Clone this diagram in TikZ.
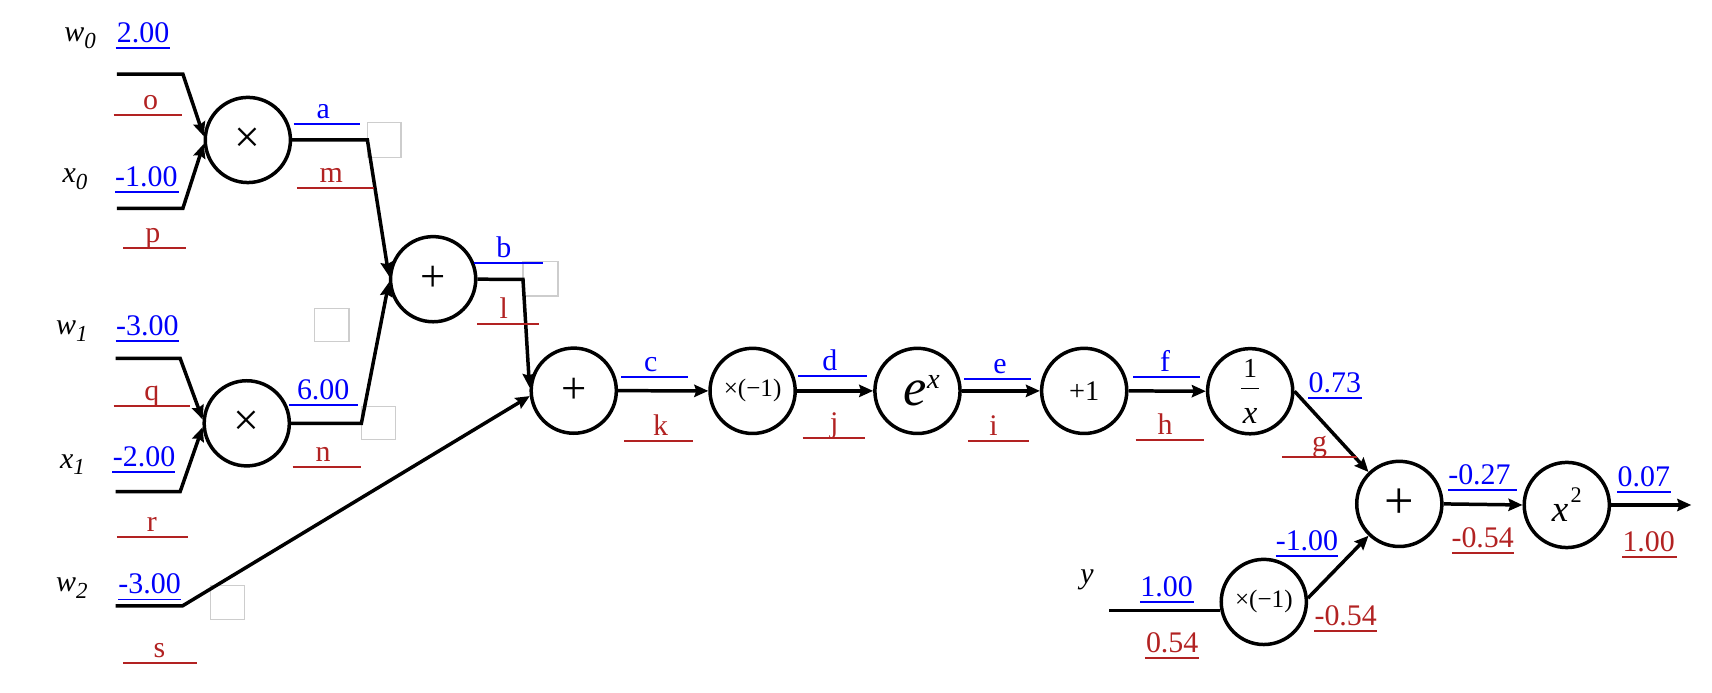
\documentclass[tikz,border=0pt]{standalone}
\usepackage{fontspec}
\setmainfont{Liberation Serif}
\usetikzlibrary{arrows.meta}
\definecolor{vblue}{RGB}{0,0,250}
\definecolor{gred}{RGB}{178,34,34}
\definecolor{boxgray}{RGB}{205,205,205}

\newcommand{\vlab}[7]{%
  \node[lbl,text=#2] (#1) at (#4,#7-5) {#3};
  \draw[uline,draw=#2] (#5,#7) -- (#6,#7);}
\newcommand{\varlab}[5]{%
  \node[vlbl] (#1) at (#2,#3) {\itshape #4\raisebox{-3pt}{\fontsize{10.5}{10.5}\selectfont #5}};}

\begin{document}
\begin{tikzpicture}[x=0.5pt,y=-0.5pt,
  lbl/.style={font=\fontsize{13.7}{13.7}\selectfont, inner sep=0pt, anchor=base},
  vlbl/.style={font=\fontsize{13.7}{13.7}\selectfont, inner sep=0pt, anchor=base west},
  op/.style={circle, draw, line width=1.6pt, minimum size=39pt, inner sep=0pt},
  wire/.style={line width=1.6pt},
  arr/.style={wire, -{Stealth[length=6.4pt,width=5.6pt,inset=0.9pt]}},
  uline/.style={line width=0.85pt},
  gbox/.style={draw=boxgray, line width=0.6pt}]
\useasboundingbox (0,0) rectangle (1568,634);

% grey boxes
\draw[gbox] (336.5,112.4) rectangle (367.4,144.1);
\draw[gbox] (479,239.7) rectangle (511,271.1);
\draw[gbox] (288,282.4) rectangle (319.5,313);
\draw[gbox] (331,372.5) rectangle (362,402.4);
\draw[gbox] (193,536.4) rectangle (224,567.3);

% operation nodes
\node[op] (m1) at (227,128.2) {\fontsize{21}{21}\selectfont ×};
\node[op] (m2) at (226,387.7) {\fontsize{21}{21}\selectfont ×};
\node[op] (p1) at (396.7,255.7) {\fontsize{20.5}{20.5}\selectfont +};
\node[op] (p2) at (525.5,357.8) {\fontsize{20.5}{20.5}\selectfont +};
\node[op] (n1) at (689.3,358) {\fontsize{11.5}{11.5}\selectfont ×(−1)};
\node[op] (ex) at (840.3,358) {\kern4pt\fontsize{24}{24}\selectfont\itshape e\raisebox{8pt}{\fontsize{13}{13}\selectfont x}};
\node[op] (inc) at (993,358) {\fontsize{13}{13}\selectfont +1};
\node[op] (inv) at (1145,358.3) {\vbox{\hbox to 8.3pt{\hss\fontsize{12.6}{12.6}\selectfont 1\hss}\kern5pt\hrule height 0.55pt\kern8.6pt\hbox to 8.3pt{\hss\fontsize{15}{15}\selectfont\itshape x\hss}}};
\node[op] (p3) at (1281.6,461.5) {\fontsize{24}{24}\selectfont +};
\node[op] (sq) at (1435,462.5) {{\fontsize{17}{17}\selectfont\itshape x}\kern1pt\raisebox{8.8pt}{\fontsize{10.2}{10.2}\selectfont 2}};
\node[op] (n2) at (1157.5,551.3) {\fontsize{11.5}{11.5}\selectfont ×(−1)};

% wire coordinates
\coordinate (w0s) at (107,67.8);
\coordinate (x0s) at (107,190.8);
\coordinate (w1s) at (106,328.2);
\coordinate (x1s) at (106,450.3);
\coordinate (w2s) at (106,555);
\coordinate (mb1) at (336.5,128.2);
\coordinate (mb2) at (331,387.7);
\coordinate (pb1) at (479,255.9);
\coordinate (yin) at (1016,559.3);
\coordinate (out) at (1549,462.5);

% wires
\draw[arr] (w0s) -- ++(60.5,0) -- (m1.175);
\draw[arr] (x0s) -- ++(60.5,0) -- (m1.185);
\draw[arr] (w1s) -- ++(59,0) -- (m2.175);
\draw[arr] (x1s) -- ++(59,0) -- (m2.185);
\draw[arr] (w2s) -- ++(61,0) -- (p2.187);
\draw[arr] (m1.east) -- (mb1) -- (p1.176);
\draw[arr] (m2.east) -- (mb2) -- (p1.184);
\draw[arr] (p1.east) -- (pb1) -- (p2.176);
\draw[arr] (p2.east) -- (n1.west);
\draw[arr] (n1.east) -- (ex.west);
\draw[arr] (ex.east) -- (inc.west);
\draw[arr] (inc.east) -- (inv.west);
\draw[arr] (inv.east) -- (p3.134);
\draw[arr] (n2.5) -- (p3.226);
\draw[wire] (yin) -- (yin -| n2.191.7);
\draw[arr] (p3.east) -- (sq.west);
\draw[arr] (sq.east) -- (out);

% variable labels
\varlab{lw0}{58.6}{38.2}{w}{0}
\varlab{lx0}{57}{167.3}{x}{0}
\varlab{lw1}{51}{306.8}{w}{1}
\varlab{lx1}{54.6}{429}{x}{1}
\varlab{lw2}{51}{542}{w}{2}
\node[vlbl] (ly) at (989,534.3) {\itshape y};

% forward values (blue)
\vlab{v2}{vblue}{2.00}{131}{106}{156}{44.3}
\vlab{vm1}{vblue}{-1.00}{134}{105.4}{164}{175.6}
\vlab{vmta}{vblue}{-3.00}{135}{106}{164}{312}
\vlab{vmtw}{vblue}{-2.00}{132}{103}{160.6}{432}
\vlab{vmtb}{vblue}{-3.00}{137}{108.5}{166}{549}
\vlab{va}{vblue}{a}{296}{269}{330}{113.9}
\vlab{vsix}{vblue}{6.00}{296}{265}{327.5}{371}
\vlab{vb}{vblue}{b}{461.5}{433.8}{497}{240.6}
\vlab{vc}{vblue}{c}{596}{569}{630}{345.6}
\vlab{vd}{vblue}{d}{760}{731}{794}{344.4}
\vlab{ve}{vblue}{e}{916}{883}{944}{347.4}
\vlab{vf}{vblue}{f}{1067}{1038}{1099}{345}
\vlab{vsevthr}{vblue}{0.73}{1222.5}{1198}{1247}{364.2}
\vlab{vmtwsev}{vblue}{-0.27}{1355}{1326.5}{1389}{448.8}
\vlab{vzsev}{vblue}{0.07}{1505.5}{1481}{1530}{450.9}
\vlab{vmone}{vblue}{-1.00}{1197}{1168.4}{1225.7}{509}
\vlab{vy}{vblue}{1.00}{1068.5}{1044}{1093.5}{551.4}

% gradients (red)
\vlab{go}{gred}{o}{138}{104}{167}{105.3}
\vlab{gp}{gred}{p}{140}{113}{170}{226.9}
\vlab{gm}{gred}{m}{303.5}{272}{342.5}{171.9}
\vlab{gl}{gred}{l}{461.5}{437}{494}{296.8}
\vlab{gq}{gred}{q}{139}{104}{174}{371.9}
\vlab{gn}{gred}{n}{296}{268}{331}{427.4}
\vlab{gr}{gred}{r}{139}{107}{172}{491.5}
\vlab{gs}{gred}{s}{146}{113}{180}{607.6}
\vlab{gk}{gred}{k}{605}{571.6}{634.6}{403.6}
\vlab{gj}{gred}{j}{764}{735}{792}{401.5}
\vlab{gi}{gred}{i}{910}{886.5}{942.5}{403.7}
\vlab{gh}{gred}{h}{1067}{1040}{1103}{403}
\vlab{gg}{gred}{g}{1208.7}{1174}{1242.4}{418.3}
\vlab{gmfa}{gred}{-0.54}{1358}{1329.7}{1387}{506.2}
\vlab{gone}{gred}{1.00}{1510}{1486}{1536}{509.9}
\vlab{gmfb}{gred}{-0.54}{1232.5}{1203.8}{1261}{577.6}
\vlab{gfive}{gred}{0.54}{1073.6}{1048.5}{1098}{603}
\end{tikzpicture}
\end{document}
